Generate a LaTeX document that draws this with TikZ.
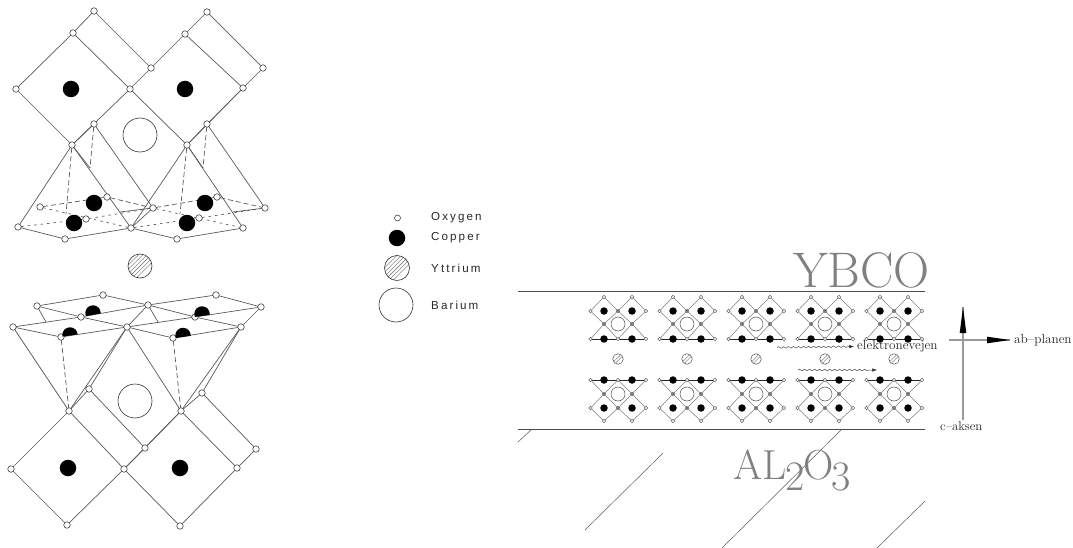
\documentclass[tikz,border=0pt]{standalone}
\usepackage{fontspec}
\newfontfamily\legendfont[LetterSpace=18]{Liberation Sans}
\usetikzlibrary{backgrounds,arrows.meta,decorations.pathmorphing,calc}
\tikzset{
  x=1pt,y=-1pt,
  ox/.style={circle,draw=black!75,fill=white,line width=.6pt,minimum size=6.5pt,inner sep=0pt,outer sep=0pt},
  cu/.style={circle,fill=black,minimum size=16.5pt,inner sep=0pt,outer sep=0pt},
  ba/.style={circle,draw=black!80,fill=none,line width=.6pt,minimum size=34pt,inner sep=0pt,outer sep=0pt},
  yt/.style={circle,draw=black!80,fill=white,line width=.6pt,minimum size=24pt,inner sep=0pt,outer sep=0pt,hatch={-12.6,-8.4,...,12.6}},
  hatch/.style={path picture={\foreach \d in {#1}
     \draw[black!60,line width=.4pt] ([shift={(\d-16,16)}]path picture bounding box.center) -- ([shift={(\d+16,-16)}]path picture bounding box.center);}},
  halfcu/.style 2 args={circle,minimum size=15.5pt,inner sep=0pt,outer sep=0pt,path picture={
     \fill[black] ([shift={(-10,#1)}]path picture bounding box.center) -- ([shift={(10,#2)}]path picture bounding box.center) -- ([shift={(10,-12)}]path picture bounding box.center) -- ([shift={(-10,-12)}]path picture bounding box.center) -- cycle;}},
  bond/.style={draw=black!65,line width=.7pt},
  dashbond/.style={bond,dash pattern=on 5pt off 3pt},
  dotbond/.style={bond,dash pattern=on 2.5pt off 4pt},
  sox/.style={circle,draw=black!60,fill=white,line width=.5pt,minimum size=3.4pt,inner sep=0pt,outer sep=0pt},
  soxin/.style={sox,fill=black!50},
  scu/.style={circle,fill=black,minimum size=7.5pt,inner sep=0pt,outer sep=0pt},
  sba/.style={circle,draw=black!70,line width=.5pt,minimum size=14pt,inner sep=0pt,outer sep=0pt},
  syt/.style={circle,draw=black!70,line width=.5pt,fill=white,minimum size=10.5pt,inner sep=0pt,outer sep=0pt,hatch={-1.7,1.7}},
  sbond/.style={draw=black!50,line width=.55pt},
  splane/.style={draw=black!85,line width=.7pt},
  rule/.style={draw=black!70,line width=.8pt},
  sub/.style={draw=black!65,line width=.5pt},
  legend/.style={inner sep=0pt,anchor=west,font=\legendfont\fontsize{11.6}{13}\selectfont,text=black!85},
  smalltxt/.style={inner sep=0pt,anchor=west,font=\fontsize{13.2}{15}\selectfont,text=black!85},
  wave/.style={draw=black!70,line width=.5pt,decorate,decoration={snake,amplitude=.8pt,segment length=5pt,post length=7pt},-{Triangle[length=5pt,width=3pt,fill=black]}},
  axisline/.style={draw=black!40,line width=1.1pt},
}
% one half of a small unit cell (relative to the cell's centre x)
\newcommand{\cellhalf}[5]{% prefix, tip y, row y, mid y, line y
  \node[sox]   (#1t1) at (-14,#2) {};
  \node[sox]   (#1t2) at (14,#2) {};
  \node[sox]   (#1l)  at (-27.5,#3) {};
  \node[soxin] (#1m)  at (0,#3) {};
  \node[sox]   (#1r)  at (28,#3) {};
  \node[soxin] (#1a)  at (-14,#4) {};
  \node[soxin] (#1b)  at (14,#4) {};
  \node[sox]   (#1bl) at (-27.5,#5) {};
  \node[sox]   (#1bm) at (0,#5) {};
  \node[sox]   (#1br) at (28,#5) {};
  \node[scu]   (#1c1) at (-14,#3) {};
  \node[scu]   (#1c2) at (14,#3) {};
  \node[scu]   (#1c3) at (-14,#5) {};
  \node[scu]   (#1c4) at (14,#5) {};
  \node[sba]   (#1ba) at (0,#4) {};
  \begin{scope}[on background layer]
    \path[sbond] (#1t1)--(#1l)--(#1a)--(#1m)--(#1t1);
    \path[sbond] (#1t2)--(#1m)--(#1b)--(#1r)--(#1t2);
    \path[sbond] (#1a)--(#1bm)--(#1b);
    \path[sbond] (#1a)--(#1bl);
    \path[sbond] (#1b)--(#1br);
    \path[splane] (#1bl)--(#1br);
  \end{scope}
}
\begin{document}
\begin{tikzpicture}
\useasboundingbox (0,0) rectangle (1073,548);
% ---------- upper structure ----------
\foreach \n/\px/\py in {A/94/11,B/73/33,C/16/89,D/72/145,E/151/68,F/130/89,G/207/12,H/185/34,I/263/68,J/243/88,K/94/124,L/207/124,M/187/145,
  Pa/18/227,Pb/65/239,Pc/131/228,Pd/177/239,Pe/243/228,Qa/40/207,Qb/107/197,Qc/153/208,Qd/217/197,Qe/265/208,Ra/86/219,Rb/199/218}
  \node[ox] (\n) at (\px,\py) {};
\node[cu] (cu1) at (71,89) {};
\node[cu] (cu2) at (185,89) {};
\node[cu] (cu3) at (94,203) {};
\node[cu] (cu4) at (74,223) {};
\node[cu] (cu5) at (205,203) {};
\node[cu] (cu6) at (187,223) {};
\node[ba] (ba1) at (140,135) {};
\node[yt] (yt1) at (140,266) {};
\coordinate (da) at (66,214);
\coordinate (db) at (90,168);
\coordinate (dc) at (180,214);
\coordinate (dd) at (203,168);
\coordinate (sa) at (120,212);
\coordinate (sb) at (233,212);
\begin{scope}[on background layer]
  \path[bond] (A)--(B)--(C)--(D)--(F)--(B);
  \path[bond] (A)--(E)--(F);
  \path[bond] (G)--(H)--(E);
  \path[bond] (H)--(J)--(M)--(F);
  \path[bond] (G)--(I)--(J);
  \path[bond] (J)--(L)--(M);
  \path[bond] (K)--(D);
  \path[bond] (D)--(Pa)--(Pb)--(Pc)--(D);
  \path[bond] (M)--(Pc)--(Pd)--(Pe)--(M);
  \path[bond] (K)--(Qc)--(Pc);
  \path[bond] (L)--(Qe);
  \path[bond] (sa)--(Qc);
  \path[bond] (sb)--(Qe);
  \path[bond] (D)--(db);
  \path[bond] (M)--(dd);
  \path[dashbond] (D)--(da);
  \path[dashbond] (K)--(db);
  \path[dashbond] (M)--(dc);
  \path[dashbond] (L)--(dd);
  \path[dashbond] (Qa)--(Qb)--(Qc);
  \path[dashbond] (Qc)--(Qd)--(Qe);
  \path[dotbond] (Pa)--(Ra)--(Qc);
  \path[dotbond] (Qa)--(Pc);
  \path[dotbond] (Pc)--(Rb)--(Qe);
  \path[dotbond] (Qc)--(Pe);
\end{scope}
% ---------- lower structure ----------
\foreach \n/\px/\py in {a/37/306,b/103/295,c/148/305,d/216/295,e/261/307,f/13/327,g/81/317,h/127/327,i/195/317,j/241/327,k/61/337,l/173/338,
  m/69/411,n/181/411,o/89/389,p/202/393,q/11/469,r/124/469,s/237/468,t/67/525,u/180/526,v/145/448,w/256/449}
  \node[ox] (\n) at (\px,\py) {};
\node[cu] (cu7) at (68,468) {};
\node[cu] (cu8) at (180,468) {};
\node[ba] (ba2) at (135,401) {};
\node[halfcu={3.6}{0}] (hc1) at (93,313) {};
\node[halfcu={3.4}{.5}] (hc2) at (202,314) {};
\node[halfcu={2}{-1}] (hc3) at (70,335) {};
\node[halfcu={3}{0}] (hc4) at (183,335.5) {};
\coordinate (ea) at (46,322);
\coordinate (eb) at (158,322);
\begin{scope}[on background layer]
  \path[bond] (a)--(b)--(c)--(g)--(a);
  \path[bond] (c)--(d)--(e)--(i)--(c);
  \path[bond] (f)--(g)--(h)--(k)--(f);
  \path[bond] (h)--(i)--(j)--(l)--(h);
  \path[bond] (f)--(m)--(h)--(n)--(j);
  \path[bond] (h)--(o)--(m);
  \path[bond] (j)--(p)--(n);
  \path[bond] (c)--(h);
  \path[bond] (e)--(j);
  \path[bond] (a)--(ea);
  \path[bond] (c)--(eb);
  \path[dashbond] (k)--(m);
  \path[dashbond] (l)--(n);
  \path[bond] (m)--(q)--(t)--(r)--(m);
  \path[bond] (n)--(r)--(u)--(s)--(n);
  \path[bond] (o)--(v)--(r);
  \path[bond] (v)--(n);
  \path[bond] (p)--(w)--(s);
\end{scope}
% ---------- legend ----------
\node[ox,minimum size=6pt] (lo) at (397.5,218) {};
\node[cu] (lc) at (397,238) {};
\node[yt,minimum size=25pt] (ly) at (397,268) {};
\node[ba] (lb) at (396,305) {};
\node[legend] (to) at (431,218) {Oxygen};
\node[legend] (tc) at (431,238) {Copper};
\node[legend] (ty) at (431,268) {Yttrium};
\node[legend] (tb) at (431,305) {Barium};
% ---------- film ----------
\coordinate (r1a) at (518,291); \coordinate (r1b) at (925,291);
\coordinate (r2a) at (518,429); \coordinate (r2b) at (925,429);
\draw[rule] (r1a)--(r1b);
\draw[rule] (r2a)--(r2b);
\coordinate (h1a) at (518,442); \coordinate (h1b) at (532,429);
\coordinate (h2a) at (585,530); \coordinate (h2b) at (663,453);
\coordinate (h3a) at (722,548); \coordinate (h3b) at (842,429);
\coordinate (h4a) at (877,548); \coordinate (h4b) at (925,501);
\draw[sub] (h1a)--(h1b);
\draw[sub] (h2a)--(h2b);
\draw[sub] (h3a)--(h3b);
\draw[sub] (h4a)--(h4b);
\foreach \i/\cx in {1/618,2/687,3/756,4/825,5/894}{
  \begin{scope}[shift={(\cx,0)}]
    \cellhalf{u\i}{297}{311}{324}{339}
    \cellhalf{d\i}{421}{408}{394}{380}
    \node[syt] (y\i) at (0,359) {};
  \end{scope}
}
\node[anchor=base west,inner sep=0pt,text=black!50,font=\fontsize{50}{54}\selectfont] (ybco) at (793,287) {YBCO};
\node[anchor=base west,inner sep=0pt,text=black!50,font=\fontsize{42}{50}\selectfont] (al) at (733,479)
  {AL\kern-1pt\raisebox{-11pt}{2}\kern-1pt O\kern-3pt\raisebox{-11pt}{3}};
% electron paths
\node[smalltxt] (el) at (857,346.5) {elektronevejen};
\coordinate (w1) at (777,347.5);
\coordinate (w2) at (798,370);
\coordinate (w3) at (877,370);
\draw[wave,shorten >=3pt] (w1)--(el.west);
\draw[wave] (w2)--(w3);
% axes
\node[smalltxt] (ab) at (1014,340) {ab--planen};
\node[smalltxt,font=\fontsize{12.8}{15}\selectfont] (ca) at (940,426) {c--aksen};
\coordinate (v1) at (963,420);
\coordinate (v2) at (963,307);
\coordinate (h1) at (949,340);
\coordinate (h2) at (1010,340);
\draw[axisline] (v1)--(v2);
\draw[axisline] (h1)--(h2);
\fill[black] (v2)--(959.7,333)--(966.3,333)--cycle;
\fill[black] (h2)--(987,336.7)--(987,343.3)--cycle;
\end{tikzpicture}
\end{document}
